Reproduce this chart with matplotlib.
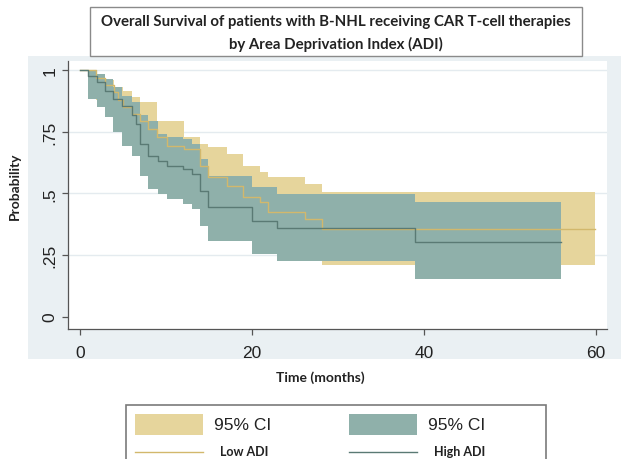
import matplotlib
matplotlib.use("Agg")
import matplotlib.pyplot as plt
from matplotlib.patches import Rectangle
from matplotlib.lines import Line2D

# ---------------- data ----------------
title_lines = ["Overall Survival of patients with B-NHL receiving CAR T-cell therapies",
               "by Area Deprivation Index (ADI)"]
x_ticks = [0, 20, 40, 60]
y_ticks = [0, 0.25, 0.5, 0.75, 1]
y_ticklabels = ["0", ".25", ".5", ".75", "1"]

# Low ADI: Kaplan-Meier estimate and 95% CI (step functions, 'post')
low_time  = [0, 1.9, 2.9, 3.9, 4.4, 5.0, 6.0, 7.0, 7.95, 9.0, 10.1, 12.1, 13.95, 14.9,
             17.05, 19.0, 20.9, 21.9, 26.2, 28.1, 59.9]
low_surv  = [1, .97, .94, .91, .88, .849, .822, .795, .762, .728, .694, .680, .613, .566,
             .532, .484, .464, .423, .396, .356, .356]
low_upper = [1, .98, .96, .93, .93, .917, .890, .870, .870, .795, .795, .728, .700, .687,
             .660, .613, .586, .566, .539, .505, .505]
low_lower = [1, .88, .85, .81, .79, .77, .73, .69, .65, .61, .57, .55, .48, .43,
             .39, .34, .32, .28, .25, .21, .21]

# High ADI
high_time  = [0, 0.97, 1.94, 2.9, 3.88, 4.84, 6.0, 6.5, 6.98, 7.95, 9.11, 10.08, 12.02,
              12.99, 13.95, 14.92, 19.96, 22.87, 38.95, 56]
high_surv  = [1, .976, .951, .917, .883, .856, .816, .782, .701, .653, .633, .613, .599,
              .579, .511, .444, .390, .358, .302, .302]
high_upper = [1, 1, .985, .965, .931, .897, .870, .870, .816, .795, .741, .728, .721,
              .700, .640, .572, .525, .498, .464, .464]
high_lower = [1, .883, .849, .809, .748, .694, .653, .653, .572, .518, .498, .477, .457,
              .437, .369, .308, .254, .227, .153, .153]

legend_ci_label = "95% CI"
group_labels = ["Low ADI", "High ADI"]

# ---------------- style ----------------
c_low_ci = "#e6d59c"
c_high_ci = "#8fb0aa"
c_low_line = "#d2b86c"
c_high_line = "#5a7a74"
c_band = "#eaf0f3"
c_axis = "#555555"

W, H = 621, 460
fig = plt.figure(figsize=(W / 100, H / 100), dpi=100)

def fx(px):
    return px / W

def fy(py):
    return 1 - py / H

# light outer band (graph region)
fig.patches.append(Rectangle((fx(28), fy(360)), fx(621 - 28), (360 - 57) / H,
                             transform=fig.transFigure, facecolor=c_band,
                             edgecolor="none", zorder=-5))

# title box
fig.patches.append(Rectangle((fx(90), fy(57)), fx(582 - 90), (57 - 8) / H,
                             transform=fig.transFigure, facecolor="white",
                             edgecolor="#8a8a8a", linewidth=1.0, zorder=-4))
fig.text(fx(336), fy(22), title_lines[0], ha="center", va="center",
         fontfamily="Lato", fontweight="bold", fontsize=10.8, color="#222222")
fig.text(fx(336), fy(44), title_lines[1], ha="center", va="center",
         fontfamily="Lato", fontweight="bold", fontsize=10.8, color="#222222")

# plot axes
ax = fig.add_axes([fx(68), fy(330), fx(607 - 68), (330 - 62) / H])
ax.set_zorder(1)
ax.set_facecolor("white")
ax.set_xlim(-1.4, 61.3)
ax.set_ylim(-0.05, 1.037)

for yv in [0.25, 0.5, 0.75, 1.0]:
    ax.axhline(yv, color="#e4ebef", linewidth=1.0, zorder=0.5)

ax.fill_between(low_time, low_lower, low_upper, step="post",
                facecolor=c_low_ci, edgecolor="none", linewidth=0, zorder=1)
ax.fill_between(high_time, high_lower, high_upper, step="post",
                facecolor=c_high_ci, edgecolor="none", linewidth=0, zorder=2)
ax.step(low_time, low_surv, where="post", color=c_low_line, linewidth=1.0, zorder=3)
ax.step(high_time, high_surv, where="post", color=c_high_line, linewidth=1.0, zorder=4)

for side in ["top", "right"]:
    ax.spines[side].set_visible(False)
for side in ["left", "bottom"]:
    ax.spines[side].set_color(c_axis)
    ax.spines[side].set_linewidth(0.9)

ax.set_xticks(x_ticks)
ax.set_xticklabels([str(v) for v in x_ticks], fontfamily="Liberation Sans", fontsize=12.5)
ax.set_yticks(y_ticks)
ax.set_yticklabels(y_ticklabels, fontfamily="Liberation Sans", fontsize=12.5,
                   rotation=90, va="center")
ax.tick_params(axis="both", colors=c_axis, length=4.5, width=0.9, direction="out",
               labelcolor="#222222")
ax.tick_params(axis="x", pad=7)
ax.tick_params(axis="y", pad=3)

ax.set_xlabel("Time (months)", fontfamily="Lato", fontweight="bold", fontsize=10,
              color="#222222")
ax.xaxis.set_label_coords((320 - 68) / (607 - 68), (330 - 378) / (330 - 62))
ax.xaxis.label.set_va("center")
ax.set_ylabel("Probability", fontfamily="Lato", fontweight="bold", fontsize=10,
              color="#222222")
ax.yaxis.set_label_coords((15 - 68) / (607 - 68), (330 - 186) / (330 - 62))
ax.yaxis.label.set_va("center")

# legend (drawn in figure coordinates)
fig.patches.append(Rectangle((fx(126), fy(466)), fx(546 - 126), (466 - 406) / H,
                             transform=fig.transFigure, facecolor="white",
                             edgecolor="#7a7a7a", linewidth=1.2, zorder=-4))
entries = [(135, c_low_ci, c_low_line, group_labels[0]),
           (349, c_high_ci, c_high_line, group_labels[1])]
for x0, cci, cline, lab in entries:
    fig.patches.append(Rectangle((fx(x0), fy(436)), fx(68), 21 / H,
                                 transform=fig.transFigure, facecolor=cci,
                                 edgecolor="none", zorder=-3))
    fig.text(fx(x0 + 79), fy(426), legend_ci_label, ha="left", va="center",
             fontfamily="Liberation Sans", fontsize=12.5, color="#222222")
    fig.lines.append(Line2D([fx(x0), fx(x0 + 68)], [fy(452.5), fy(452.5)],
                            transform=fig.transFigure, color=cline, linewidth=1.0))
    fig.text(fx(x0 + 85), fy(452), lab, ha="left", va="center",
             fontfamily="Lato", fontweight="bold", fontsize=9, color="#222222")

fig.savefig("out.png", dpi=100)
